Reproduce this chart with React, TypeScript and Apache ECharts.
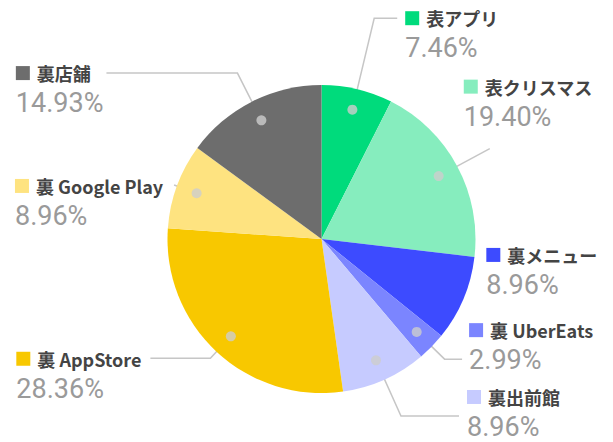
import React, { useEffect, useRef } from "react";
import * as echarts from "echarts";

// ---- data ----
const categories = ["表アプリ", "表クリスマス", "裏メニュー", "裏 UberEats", "裏出前館", "裏 AppStore", "裏 Google Play", "裏店舗"];
const shares = [7.46, 19.4, 8.96, 2.99, 8.96, 28.36, 8.96, 14.93];
const colors = ["#00DB7C", "#86EDBE", "#3D4BFF", "#7B85FF", "#C6CBFF", "#F8C800", "#FEE380", "#6D6D6D"];

// ---- layout / style ----
const CENTER: [number, number] = [321.5, 239];
const RADIUS = 154;
const LEADER_RADIUS = 133;
const lineLen = [94, 58, 10, 39, 61, 30, 24, 53];
const lineLen2 = [23, 0, 0, 17.5, 58, 60, 0, 131];
const labelDx = [0, -34, 25, -1, 0, -3, -5, 3];
const labelDy = [17, -45, -22.5, -12, -2, 17.5, 18, 17];
const leaderShown = [true, true, false, true, true, true, true, true];
const LINE_COLOR = "#c6c6c6";

export default function App() {
  const ref = useRef<HTMLDivElement>(null);

  useEffect(() => {
    if (!ref.current) return;
    const chart = echarts.init(ref.current, undefined, { renderer: "svg" });

    const total = shares.reduce((a, b) => a + b, 0);
    let acc = 0;
    const mids = shares.map((v) => {
      const m = acc + v / 2;
      acc += v;
      return m;
    });
    const dotData = mids
      .map((m, i) => (leaderShown[i] ? [LEADER_RADIUS, m] : null))
      .filter((d) => d !== null);

    const rich: any = {
      n: {
        fontSize: 18,
        fontWeight: "bold",
        color: "#444444",
        fontFamily: "'Noto Sans CJK JP', sans-serif",
        lineHeight: 26,
        padding: [0, 0, 0, 7],
        align: "left",
      },
      p: {
        fontSize: 27,
        color: "#9a9a9a",
        fontFamily: "Roboto, sans-serif",
        lineHeight: 34,
        align: "left",
      },
    };
    colors.forEach((c, i) => {
      rich["m" + i] = { width: 14, height: 14, backgroundColor: c, lineHeight: 26, align: "left" };
    });

    chart.setOption({
      animation: false,
      backgroundColor: "#ffffff",
      polar: { center: CENTER, radius: RADIUS },
      angleAxis: { type: "value", min: 0, max: total, startAngle: 90, clockwise: true, show: false },
      radiusAxis: { type: "value", min: 0, max: RADIUS, show: false },
      series: [
        {
          type: "pie",
          center: CENTER,
          radius: RADIUS,
          silent: true,
          label: { show: false },
          labelLine: { show: false },
          emphasis: { disabled: true },
          data: categories.map((name, i) => ({ name, value: shares[i], itemStyle: { color: colors[i] } })),
        },
        {
          type: "pie",
          center: CENTER,
          radius: LEADER_RADIUS,
          silent: true,
          avoidLabelOverlap: false,
          emphasis: { disabled: true },
          itemStyle: { color: "rgba(0,0,0,0)" },
          label: {
            show: true,
            position: "outside",
            alignTo: "none",
            formatter: (p: any) => `{m${p.dataIndex}|}{n|${p.name}}\n{p|${Number(p.value).toFixed(2)}%}`,
            rich,
          },
          labelLine: { show: true, smooth: false, lineStyle: { color: LINE_COLOR, width: 1.5 } },
          labelLayout: (p: any) => ({ dx: labelDx[p.dataIndex], dy: labelDy[p.dataIndex] }),
          data: categories.map((name, i) => ({
            name,
            value: shares[i],
            label: { distanceToLabelLine: i >= 5 ? 6 : 8 },
            labelLine: { show: leaderShown[i], length: lineLen[i], length2: lineLen2[i] },
          })),
        },
        {
          type: "scatter",
          coordinateSystem: "polar",
          silent: true,
          symbolSize: 10,
          z: 5,
          itemStyle: { color: "#cdcdcd" },
          data: dotData,
        },
      ],
    });

    return () => chart.dispose();
  }, []);

  return (
    <div
      ref={ref}
      style={{ position: "fixed", left: 0, top: 0, width: 613, height: 442, background: "#fff" }}
    />
  );
}
